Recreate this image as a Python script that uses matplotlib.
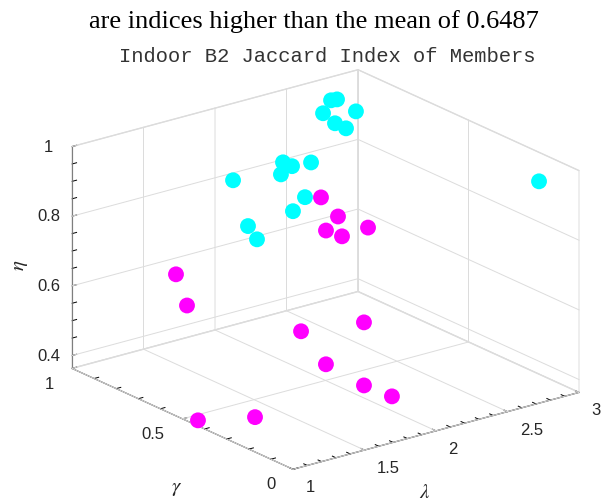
import matplotlib
matplotlib.use('Agg')
import matplotlib.pyplot as plt
from matplotlib.transforms import ScaledTranslation
from mpl_toolkits.mplot3d import proj3d
import numpy as np

# cyan: indices above the mean
lam_hi = [2.657, 2.776, 2.601, 2.831, 2.530, 2.607, 2.012, 2.075, 2.208, 1.843, 2.011, 1.927, 2.875, 1.508, 1.458, 1.521]
gam_hi = [0.90, 0.95, 0.90, 0.90, 0.80, 0.80, 0.70, 0.70, 0.70, 0.60, 0.60, 0.60, 0.10, 0.60, 0.50, 0.50]
eta_hi = [0.979, 0.954, 0.948, 0.928, 0.956, 0.933, 0.930, 0.912, 0.908, 0.943, 0.859, 0.828, 0.954, 0.963, 0.866, 0.821]

# magenta: the rest
lam_lo = [2.432, 2.551, 2.467, 2.579, 2.761, 2.269, 1.829, 1.694, 1.960, 2.001, 1.109, 1.186, 1.000, 1.198]
gam_lo = [0.80, 0.80, 0.80, 0.80, 0.80, 0.50, 0.50, 0.30, 0.30, 0.20, 0.60, 0.60, 0.43, 0.30]
eta_lo = [0.754, 0.686, 0.655, 0.626, 0.631, 0.500, 0.523, 0.501, 0.411, 0.404, 0.737, 0.639, 0.379, 0.404]

xticks = [1, 1.5, 2, 2.5, 3]
xticklabels = ['1', '1.5', '2', '2.5', '3']
yticks = [0, 0.5, 1]
yticklabels = ['0', '0.5', '1']
zticks = [0.4, 0.6, 0.8, 1.0]
zticklabels = ['0.4', '0.6', '0.8', '1']
xlim = (1, 3)
ylim = (0, 1)
zlim = (0.363, 1.0)

W, H = 613, 504
plt.rcParams['axes3d.automargin'] = False
plt.rcParams['font.family'] = 'Liberation Sans'
plt.rcParams['mathtext.fontset'] = 'stix'
gridc = '#dcdcdc'

fig = plt.figure(figsize=(W/100, H/100), dpi=100)
ax = fig.add_axes([0, 0, 1, 1], projection='3d', proj_type='ortho', computed_zorder=False)
ax.view_init(elev=20.5, azim=-127.5)
ax.set_box_aspect((1, 1.007, 0.657))
ax.grid(False)

# grid on the back walls and floor, major ticks only
x0, x1 = xlim
y0, y1 = ylim
z0, z1 = zlim
for t in xticks:
    ax.plot([t, t, t], [y0, y1, y1], [z0, z0, z1], color=gridc, lw=0.7, zorder=0)
for t in yticks:
    ax.plot([x0, x1, x1], [t, t, t], [z0, z0, z1], color=gridc, lw=0.7, zorder=0)
for t in zticks:
    ax.plot([x0, x1, x1], [y1, y1, y0], [t, t, t], color=gridc, lw=0.7, zorder=0)

ax.scatter(lam_hi, gam_hi, eta_hi, s=130, c='#00ffff', edgecolors='none', depthshade=False, zorder=2)
ax.scatter(lam_lo, gam_lo, eta_lo, s=130, c='#ff00ff', edgecolors='none', depthshade=False, zorder=2)

ax.set_xlim(*xlim)
ax.set_ylim(*ylim)
ax.set_zlim(*zlim)
ax.set_xticks(xticks)
ax.set_xticklabels(xticklabels, ha='left')
ax.set_xticks(np.arange(1, 3.001, 0.1), minor=True)
ax.set_yticks(yticks)
ax.set_yticklabels(yticklabels, ha='right')
ax.set_yticks(np.arange(0, 1.001, 0.1), minor=True)
ax.set_zticks(zticks)
ax.set_zticklabels(zticklabels)
ax.set_zticks(np.arange(0.4, 1.001, 0.05), minor=True)

for a in (ax.xaxis, ax.yaxis, ax.zaxis):
    a.set_pane_color((1, 1, 1, 1))
    a.pane.set_edgecolor(gridc)
    a.line.set_color('#262626')
    a.line.set_linewidth(0.8)
    a._axinfo['tick']['inward_factor'] = 0.0
    a._axinfo['tick']['outward_factor'] = 0.2
    a._axinfo['tick']['linewidth'] = {True: 0.8, False: 0.7}
ax.tick_params(colors='#262626', labelsize=12, pad=-1)

# axis3d resets label transforms on every draw, so nudge them there (pixels)
def nudge(axis, dx, dy):
    orig = axis.get_major_ticks
    off = ScaledTranslation(dx/100, dy/100, fig.dpi_scale_trans)
    def get_major_ticks(numticks=None):
        ticks = orig(numticks)
        for t in ticks:
            t.label1.set_transform(ax.transData + off)
        return ticks
    axis.get_major_ticks = get_major_ticks

nudge(ax.xaxis, 5, 0)
nudge(ax.yaxis, -8, 2)
nudge(ax.zaxis, -6, 6)

# fit the projected box to the reference frame
fig.canvas.draw()
cx = np.array([1, 3, 1, 3, 1, 3, 1, 3], float)
cy = np.array([0, 0, 1, 1, 0, 0, 1, 1], float)
cz = np.array([zlim[0]] * 4 + [zlim[1]] * 4, float)
px, py, _ = proj3d.proj_transform(cx, cy, cz, ax.get_proj())
pts = ax.transData.transform(np.column_stack([px, py]))
k = (579 - 72) / (pts[:, 0].max() - pts[:, 0].min())
bcx = (pts[:, 0].max() + pts[:, 0].min()) / 2
bcy = (pts[:, 1].max() + pts[:, 1].min()) / 2
acx = (ax.bbox.x0 + ax.bbox.x1) / 2
acy = (ax.bbox.y0 + ax.bbox.y1) / 2
size = ax.bbox.width * k
ncx = 325.5 - k * (bcx - acx)
ncy = (H - 269.5) - k * (bcy - acy)
ax.set_position([(ncx - size/2)/W, (ncy - size/2)/H, size/W, size/H])

fig.text(314/W, 1 - 22/H, 'are indices higher than the mean of 0.6487',
         family='Liberation Serif', size=19, ha='center', va='center')
fig.text(327/W, 1 - 57/H, 'Indoor B2 Jaccard Index of Members',
         family='Liberation Mono', size=14.8, color='#333333', ha='center', va='center')
fig.text(425/W, 1 - 492/H, r'$\lambda$', size=15, ha='center', va='center', color='#262626')
fig.text(177/W, 1 - 488/H, r'$\gamma$', size=15, ha='center', va='center', color='#262626')
fig.text(20/W, 1 - 265/H, r'$\eta$', size=15, ha='center', va='center', rotation=90, color='#262626')

fig.savefig('out.png', dpi=100)
